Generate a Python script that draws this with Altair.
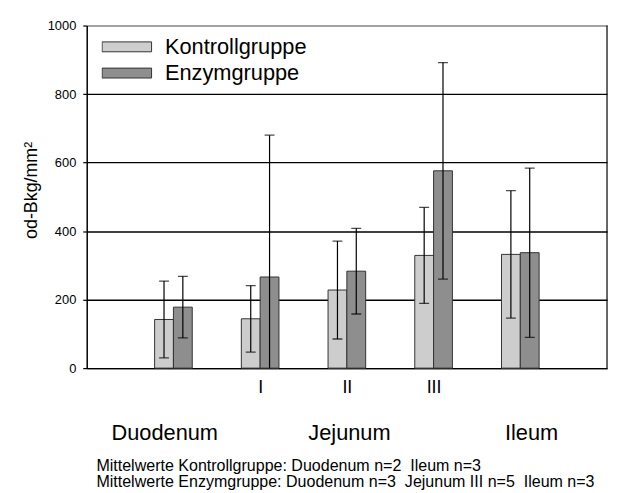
import json
import altair as alt
import pandas as pd

# ---- data ----
regions = ["Duodenum", "I", "II", "III", "Ileum"]
slots = [1, 2, 3, 4, 5]
groups = ["Kontrollgruppe", "Enzymgruppe"]
kontroll_mean = [142, 144, 228, 329, 332]
kontroll_sd = [112, 97, 143, 140, 186]
enzym_mean = [178, 266, 283, 576, 337]
enzym_sd = [90, 414, 125, 316, 247]
colors = ["#cdcdcd", "#8e8e8e"]
y_ticks = [0, 200, 400, 600, 800, 1000]
x_tick_slots = [2, 3, 4]
x_tick_labels = ["I", "II", "III"]
region_names = ["Duodenum", "Jejunum", "Ileum"]
region_slots = [0.9, 3.03, 5.13]
footnote = [
    "Mittelwerte Kontrollgruppe: Duodenum n=2\u00a0 Ileum n=3",
    "Mittelwerte Enzymgruppe: Duodenum n=3\u00a0 Jejunum III n=5\u00a0 Ileum n=3",
]

FONT = "Liberation Sans"
BW = 0.217  # bar width in slot units

rows = []
for i, s in enumerate(slots):
    for g, means, sds, side in ((groups[0], kontroll_mean, kontroll_sd, 0),
                                (groups[1], enzym_mean, enzym_sd, 1)):
        x0 = s - BW if side == 0 else s
        rows.append(dict(region=regions[i], group=g, x0=x0, x1=x0 + BW,
                         xc=x0 + BW / 2, mean=means[i],
                         lo=means[i] - sds[i], hi=means[i] + sds[i]))
df = pd.DataFrame(rows)

xscale = alt.Scale(domain=[0, 6], nice=False, zero=False)
yscale = alt.Scale(domain=[0, 1000], nice=False)

label_expr = json.dumps(x_tick_labels) + "[datum.value - 2]"

x_axis = alt.Axis(values=x_tick_slots, labelExpr=label_expr, title=None,
                  grid=False, ticks=False, domain=True,
                  domainColor="black", domainWidth=1.5,
                  labelFont=FONT, labelFontSize=18, labelColor="black",
                  labelPadding=11)
y_axis = alt.Axis(values=y_ticks, title="od-Bkg/mm²", format="d",
                  titleFont=FONT, titleFontSize=18, titleFontWeight="normal",
                  titleColor="black", titleAngle=270, titleX=-51, titleY=166,
                  titleAlign="center", titleBaseline="alphabetic",
                  labelFont=FONT, labelFontSize=13, labelColor="black",
                  labelPadding=7, tickSize=4, tickColor="black", tickWidth=1.2,
                  domainColor="black", domainWidth=1.5,
                  grid=True, gridWidth=1.4,
                  gridColor={"condition": {"test": "datum.value === 1000",
                                           "value": "#858585"},
                             "value": "black"})

bars = alt.Chart(df).mark_rect(stroke="#333333", strokeWidth=1).encode(
    x=alt.X("x0:Q", scale=xscale, axis=x_axis),
    x2="x1:Q",
    y=alt.Y("mean:Q", scale=yscale, axis=y_axis),
    y2=alt.datum(0),
    fill=alt.Fill("group:N", scale=alt.Scale(domain=groups, range=colors),
                  legend=alt.Legend(title=None, orient="none", legendX=15, legendY=13.5,
                                    symbolType="M-1,-0.2L1,-0.2L1,0.2L-1,0.2Z",
                                    symbolSize=2500, symbolStrokeColor="#333333",
                                    symbolStrokeWidth=1, labelFont=FONT,
                                    labelFontSize=22, labelColor="black",
                                    labelOffset=13, clipHeight=16, rowPadding=4.5,
                                    padding=0)),
)

right_border = alt.Chart(pd.DataFrame({"k": [0]})).mark_rule(
    color="black", strokeWidth=1.2).encode(
    x=alt.datum(6, scale=xscale), y=alt.datum(0, scale=yscale), y2=alt.datum(1000))

err = alt.Chart(df).mark_rule(color="black", strokeWidth=1.2, clip=True).encode(
    x=alt.X("xc:Q", scale=xscale, axis=x_axis),
    y=alt.Y("lo:Q", scale=yscale, axis=y_axis),
    y2="hi:Q",
)
cap_hi = alt.Chart(df).mark_tick(color="black", orient="horizontal", size=10,
                                 thickness=1.3, clip=True).encode(
    x=alt.X("xc:Q", scale=xscale, axis=x_axis),
    y=alt.Y("hi:Q", scale=yscale, axis=y_axis),
)
cap_lo = alt.Chart(df).mark_tick(color="black", orient="horizontal", size=10,
                                 thickness=1.3, clip=True).encode(
    x=alt.X("xc:Q", scale=xscale, axis=x_axis),
    y=alt.Y("lo:Q", scale=yscale, axis=y_axis),
)

names_df = pd.DataFrame({"name": region_names, "slot": region_slots})
names = alt.Chart(names_df).mark_text(font=FONT, fontSize=22, color="black",
                                      baseline="alphabetic", align="center").encode(
    x=alt.X("slot:Q", scale=xscale, axis=x_axis),
    y=alt.value(418.5),
    text="name:N",
)

foot_layers = []
for line, ypix in zip(footnote, [449.4, 466.0]):
    foot_layers.append(
        alt.Chart(pd.DataFrame({"t": [line]})).mark_text(
            font=FONT, fontSize=16.2, color="black",
            align="left", baseline="alphabetic").encode(
            x=alt.value(9.8), y=alt.value(ypix), text="t:N")
    )

chart = alt.layer(bars, right_border, err, cap_hi, cap_lo, names, *foot_layers).properties(
    width=525.5, height=346,
    padding={"left": 79.5, "top": 15.3, "right": 2, "bottom": 124},
    autosize=alt.AutoSizeParams(type="none"),
).configure(background="white").configure_view(stroke=None)

chart.save("out.html", embed_options={"renderer": "svg", "actions": False})
